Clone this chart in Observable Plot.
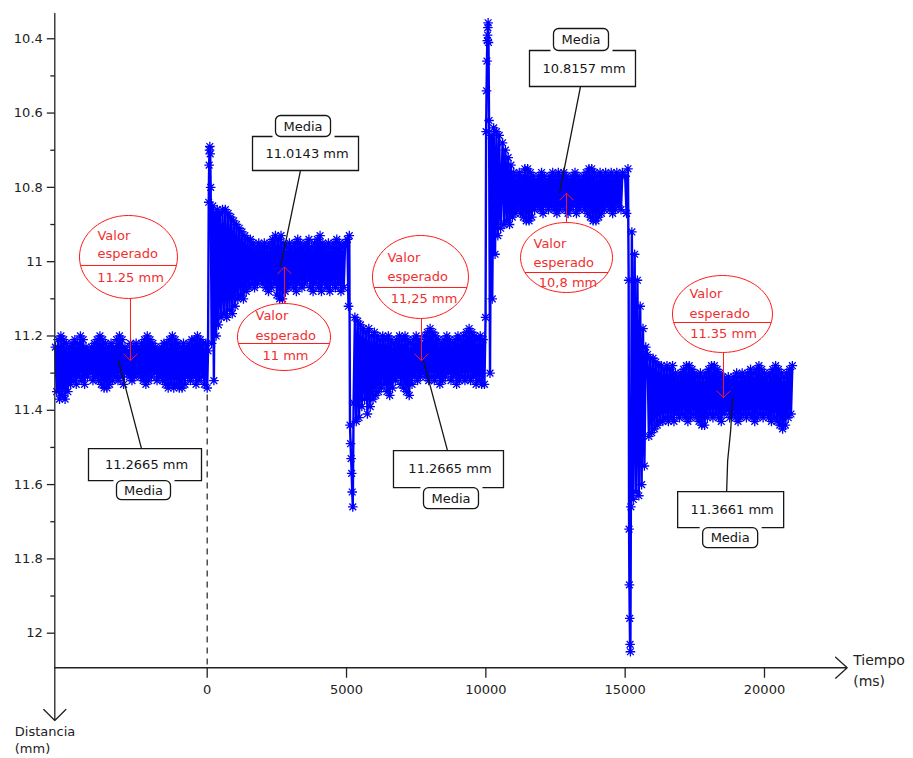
<!DOCTYPE html>
<html lang="es">
<head>
<meta charset="utf-8">
<script src="https://cdn.jsdelivr.net/npm/d3@7"></script>
<script src="https://cdn.jsdelivr.net/npm/@observablehq/plot@0.6"></script>
<style>
  html, body { margin: 0; padding: 0; background: #fff; }
  #grafico svg { display: block; }
</style>
</head>
<body>
<div id="grafico"></div>
<script>
// Tramos estables: una lectura de distancia (mm) cada 50 ms
const paso = 50;
const inicioTramos = [-5450, 450, 5700, 10600, 15800];

const tramo1 = [
  11.23, 11.35, 11.21, 11.37, 11.20, 11.36, 11.21, 11.37, 11.22, 11.35,
  11.23, 11.33, 11.22, 11.32, 11.21, 11.33, 11.22, 11.31, 11.20, 11.32,
  11.21, 11.33, 11.23, 11.31, 11.24, 11.30, 11.23, 11.32, 11.22, 11.31,
  11.21, 11.32, 11.20, 11.33, 11.21, 11.34, 11.22, 11.34, 11.23, 11.33,
  11.22, 11.32, 11.23, 11.31, 11.21, 11.32, 11.20, 11.31, 11.21, 11.33,
  11.23, 11.30, 11.24, 11.31, 11.22, 11.32, 11.23, 11.31, 11.22, 11.30,
  11.23, 11.31, 11.22, 11.32, 11.21, 11.33, 11.20, 11.32, 11.21, 11.31,
  11.22, 11.30, 11.23, 11.32, 11.24, 11.31, 11.23, 11.32, 11.22, 11.33,
  11.22, 11.34, 11.21, 11.33, 11.20, 11.34, 11.21, 11.33, 11.22, 11.34,
  11.23, 11.34, 11.22, 11.33, 11.23, 11.31, 11.22, 11.32, 11.21, 11.31,
  11.21, 11.33, 11.20, 11.32, 11.21, 11.31, 11.22, 11.33, 11.22
];
const tramo2 = [
  10.87, 11.15, 10.86, 11.14, 10.86, 11.15, 10.87, 11.13, 10.88, 11.14,
  10.89, 11.12, 10.90, 11.10, 10.91, 11.09, 10.92, 11.10, 10.93, 11.08,
  10.94, 11.07, 10.94, 11.06, 10.95, 11.07, 10.96, 11.06, 10.95, 11.05,
  10.96, 11.06, 10.95, 11.07, 10.96, 11.08, 10.95, 11.07, 10.94, 11.06,
  10.93, 11.09, 10.94, 11.10, 10.93, 11.10, 10.95, 11.08, 10.96, 11.07,
  10.95, 11.06, 10.96, 11.07, 10.95, 11.08, 10.94, 11.06, 10.95, 11.07,
  10.96, 11.06, 10.95, 11.05, 10.94, 11.07, 10.96, 11.08, 10.95, 11.06,
  10.94, 11.07, 10.93, 11.08, 10.95, 11.06, 10.96, 11.07, 10.95, 11.08,
  10.96, 11.06, 10.95, 11.07, 10.94, 11.06, 10.95, 11.08, 10.96, 11.07,
  10.95
];
const tramo3 = [
  11.19, 11.41, 11.18, 11.39, 11.20, 11.37, 11.19, 11.36, 11.20, 11.35,
  11.21, 11.34, 11.20, 11.33, 11.21, 11.35, 11.20, 11.36, 11.21, 11.34,
  11.22, 11.32, 11.21, 11.31, 11.20, 11.33, 11.21, 11.34, 11.20, 11.35,
  11.21, 11.36, 11.22, 11.33, 11.21, 11.31, 11.20, 11.32, 11.21, 11.31,
  11.22, 11.30, 11.20, 11.31, 11.19, 11.32, 11.18, 11.31, 11.19, 11.32,
  11.20, 11.31, 11.21, 11.33, 11.22, 11.32, 11.21, 11.31, 11.20, 11.30,
  11.21, 11.32, 11.22, 11.31, 11.21, 11.33, 11.20, 11.32, 11.21, 11.31,
  11.20, 11.32, 11.19, 11.31, 11.18, 11.32, 11.19, 11.31, 11.20, 11.33,
  11.21, 11.32, 11.20, 11.33, 11.21
];
const tramo4 = [
  10.68, 10.90, 10.70, 10.89, 10.72, 10.90, 10.74, 10.88, 10.76, 10.87,
  10.77, 10.86, 10.76, 10.87, 10.77, 10.88, 10.75, 10.89, 10.75, 10.89,
  10.76, 10.88, 10.77, 10.86, 10.78, 10.85, 10.77, 10.86, 10.76, 10.87,
  10.77, 10.85, 10.78, 10.86, 10.77, 10.85, 10.76, 10.86, 10.77, 10.87,
  10.76, 10.86, 10.77, 10.85, 10.76, 10.86, 10.77, 10.87, 10.78, 10.86,
  10.77, 10.85, 10.76, 10.87, 10.77, 10.86, 10.78, 10.85, 10.77, 10.86,
  10.76, 10.87, 10.75, 10.88, 10.75, 10.89, 10.76, 10.89, 10.77, 10.88,
  10.76, 10.87, 10.77, 10.86, 10.76, 10.85, 10.77, 10.86, 10.76, 10.87,
  10.77, 10.86, 10.76, 10.85, 10.77, 10.86, 10.76
];
const tramo5 = [
  11.25, 11.47, 11.26, 11.46, 11.26, 11.45, 11.27, 11.44, 11.28, 11.43,
  11.28, 11.43, 11.29, 11.42, 11.28, 11.43, 11.29, 11.42, 11.28, 11.43,
  11.30, 11.41, 11.31, 11.42, 11.30, 11.41, 11.29, 11.42, 11.28, 11.43,
  11.28, 11.42, 11.29, 11.41, 11.30, 11.42, 11.31, 11.43, 11.30, 11.44,
  11.31, 11.44, 11.30, 11.42, 11.29, 11.41, 11.28, 11.42, 11.28, 11.41,
  11.29, 11.42, 11.30, 11.43, 11.31, 11.41, 11.32, 11.40, 11.31, 11.42,
  11.32, 11.41, 11.31, 11.42, 11.30, 11.43, 11.31, 11.42, 11.30, 11.41,
  11.31, 11.42, 11.30, 11.41, 11.29, 11.42, 11.30, 11.43, 11.29, 11.42,
  11.28, 11.41, 11.29, 11.42, 11.30, 11.41, 11.31, 11.42, 11.30, 11.43,
  11.29, 11.42, 11.28, 11.43, 11.29, 11.44, 11.30, 11.45, 11.31, 11.44,
  11.30, 11.42, 11.29, 11.41, 11.28
];

// Saltos entre consignas: pares [tiempo (ms), distancia (mm)]
const salto1 = [
  [0, 11.34], [30, 11.24], [55, 10.84], [70, 10.74], [82, 10.70], [94, 10.69],
  [108, 10.71], [125, 10.80], [160, 11.22], [200, 10.85], [240, 11.32],
  [280, 10.87], [320, 11.20], [360, 10.86], [400, 11.17]
];
const salto2 = [
  [5030, 10.94], [5070, 11.12], [5100, 10.93], [5125, 11.44], [5145, 11.49],
  [5165, 11.53], [5185, 11.57], [5205, 11.62], [5225, 11.66], [5255, 11.38],
  [5300, 11.15], [5350, 11.43], [5400, 11.16], [5450, 11.42], [5500, 11.17],
  [5550, 11.39], [5600, 11.18], [5650, 11.37]
];
const salto3 = [
  [9950, 11.33], [9990, 11.15], [10010, 10.65], [10025, 10.54], [10040, 10.46],
  [10052, 10.405], [10062, 10.39], [10072, 10.37], [10082, 10.357], [10095, 10.41],
  [10115, 10.62], [10150, 11.30], [10190, 10.66], [10230, 11.10], [10280, 10.64],
  [10330, 10.98], [10380, 10.65], [10430, 10.93], [10480, 10.66], [10530, 10.91]
];
const salto4 = [
  [15000, 10.77], [15050, 10.87], [15100, 10.75], [15125, 11.05], [15140, 11.72],
  [15152, 11.87], [15164, 11.96], [15176, 12.03], [15188, 12.05], [15205, 11.66],
  [15240, 10.92], [15290, 11.64], [15340, 10.98], [15390, 11.62], [15440, 11.05],
  [15490, 11.63], [15540, 11.12], [15590, 11.60], [15640, 11.18], [15690, 11.55],
  [15740, 11.23]
];

// Media medida y valor esperado de cada escalón
const medias = [11.2665, 11.0143, 11.2665, 10.8157, 11.3661];
const esperados = ["11.25 mm", "11 mm", "11,25 mm", "10,8 mm", "11.35 mm"];
// Instantes (ms) a los que apuntan las anotaciones de media y de valor esperado
const tMedia = [-3183, 2631, 7762, 12643, 18857];
const tEsperado = [-2753, 2774, 7690, 12895, 18528];

// Ejes
const ticksX = [0, 5000, 10000, 15000, 20000];
const ticksY = [10.4, 10.6, 10.8, 11, 11.2, 11.4, 11.6, 11.8, 12];
const ticksYMenores = [10.5, 10.7, 10.9, 11.1, 11.3, 11.5, 11.7, 11.9];

// ---- Serie completa ordenada por tiempo ----
const tramos = [tramo1, tramo2, tramo3, tramo4, tramo5];
const saltos = [salto1, salto2, salto3, salto4];
const lecturas = [];
tramos.forEach((valores, k) =>
  valores.forEach((d, i) => lecturas.push({t: inicioTramos[k] + i * paso, d})));
saltos.forEach(s => s.forEach(([t, d]) => lecturas.push({t, d})));
lecturas.sort((a, b) => a.t - b.t);

// ---- Límites de los ejes ----
const tIni = -5469, tFin = 22968;        // eje de tiempo (ms)
const dArriba = 10.332, dAbajo = 12.235; // eje de distancia (mm)
const dEjeTiempo = 12.093;               // altura a la que se dibuja el eje de tiempo

const fuente = "DejaVu Sans";
const azul = "#0000ff", rojo = "#ff1a1a", textoRojo = "#f03030", negro = "#161616";

// ---- Símbolos propios ----
const simbolo = dibujar => ({draw(c) { dibujar(c); }});

const estrella = simbolo(c => {
  const a = 4.8, b = a * 0.7071;
  c.moveTo(-a, 0); c.lineTo(a, 0);
  c.moveTo(0, -a); c.lineTo(0, a);
  c.moveTo(-b, -b); c.lineTo(b, b);
  c.moveTo(-b, b); c.lineTo(b, -b);
});
const marcaX = simbolo(c => { c.moveTo(0, 0); c.lineTo(0, 10); });
const marcaY = simbolo(c => { c.moveTo(-8, 0); c.lineTo(0, 0); });
const marcaYMenor = simbolo(c => { c.moveTo(-4.5, 0); c.lineTo(0, 0); });

function elipse(c, cx, cy, rx, ry) {
  const k = 0.5523;
  c.moveTo(cx + rx, cy);
  c.bezierCurveTo(cx + rx, cy + k * ry, cx + k * rx, cy + ry, cx, cy + ry);
  c.bezierCurveTo(cx - k * rx, cy + ry, cx - rx, cy + k * ry, cx - rx, cy);
  c.bezierCurveTo(cx - rx, cy - k * ry, cx - k * rx, cy - ry, cx, cy - ry);
  c.bezierCurveTo(cx + k * rx, cy - ry, cx + rx, cy - k * ry, cx + rx, cy);
  c.closePath();
}
function rectRedondeado(c, l, t, r, b, rad) {
  c.moveTo(l + rad, t);
  c.arcTo(r, t, r, b, rad);
  c.arcTo(r, b, l, b, rad);
  c.arcTo(l, b, l, t, rad);
  c.arcTo(l, t, r, t, rad);
  c.closePath();
}

// Globo rojo del valor esperado, relativo a la punta de su flecha (px)
const globos = [
  {cx: -2,   cy: -103.7, rx: 49,   ry: 41.5, div: -95.2, lineas: [-125.2, -107.2, -83.2], izq: -33, val: 0},
  {cx: -0.5, cy: 70,     rx: 46.5, ry: 33.5, div: 76.5,  lineas: [48.5, 68.5, 88.5],      izq: -29, val: 1},
  {cx: -1,   cy: -83.7,  rx: 48,   ry: 41.5, div: -73.2, lineas: [-103.2, -84.2, -62.2],  izq: -34, val: 2.5},
  {cx: 0,    cy: 64.3,   rx: 46,   ry: 35,   div: 79.3,  lineas: [50.3, 69.3, 89.3],      izq: -33, val: 1.5},
  {cx: -1,   cy: -83.7,  rx: 50,   ry: 38.5, div: -75.2, lineas: [-104.2, -84.2, -64.2],  izq: -34, val: 0}
];
function globoRojo(g) {
  return simbolo(c => {
    elipse(c, g.cx, g.cy, g.rx, g.ry);
    const h = g.rx * Math.sqrt(Math.max(0, 1 - ((g.div - g.cy) / g.ry) ** 2));
    c.moveTo(g.cx - h, g.div); c.lineTo(g.cx + h, g.div);
    const s = g.cy < 0 ? 1 : -1;           // 1: la flecha baja hacia la serie
    c.moveTo(0, g.cy + s * g.ry); c.lineTo(0, 0);
    c.moveTo(-7, -7 * s); c.lineTo(0, 0); c.lineTo(7, -7 * s);
  });
}

// Recuadro negro de la media, relativo al extremo de su línea guía (px)
const cajas = [
  {guia: [[0, 0], [23, 88]],  caja: [-30, 88, 83, 120],        pestana: [-2, 120, 52, 139],       arriba: false},
  {guia: [[0, 0], [20, -96.5]], caja: [-28, -130.5, 78, -96.5], pestana: [-5, -151.5, 50, -130.5], arriba: true},
  {guia: [[0, 0], [24, 90]],  caja: [-30, 90, 80, 127],        pestana: [0, 127, 55, 148],        arriba: false},
  {guia: [[0, 0], [21, -106.7]], caja: [-30, -142.7, 76, -106.7], pestana: [-6, -164.7, 49, -142.7], arriba: true},
  {guia: [[0, 0], [-2, 33], [-5, 63], [-6, 94]], caja: [-55, 94, 51, 130], pestana: [-30, 130, 25, 150], arriba: false}
];
function cajaNegra(k) {
  return simbolo(c => {
    k.guia.forEach(([x, y], i) => i ? c.lineTo(x, y) : c.moveTo(x, y));
    const [l, t, r, b] = k.caja, [pl, pt, pr, pb] = k.pestana;
    const yp = k.arriba ? t : b, yo = k.arriba ? b : t;
    c.moveTo(pl - 3, yp); c.lineTo(l, yp); c.lineTo(l, yo);
    c.lineTo(r, yo); c.lineTo(r, yp); c.lineTo(pr + 4, yp);
    rectRedondeado(c, pl, pt, pr, pb, 5);
  });
}

// ---- Anotaciones ----
const anotaciones = medias.flatMap((m, i) => {
  const g = globos[i], k = cajas[i];
  const [l, t, r, b] = k.caja, [pl, pt, pr, pb] = k.pestana;
  const rojoTexto = {fill: textoRojo, fontSize: 13, fontFamily: fuente, lineAnchor: "middle"};
  const negroTexto = {fill: negro, fontSize: 13, fontFamily: fuente, lineAnchor: "middle"};
  const pe = [{t: tEsperado[i], d: m}], pm = [{t: tMedia[i], d: m}];
  return [
    Plot.dot(pe, {x: "t", y: "d", symbol: globoRojo(g), stroke: rojo, strokeWidth: 1, fill: "none"}),
    Plot.text(pe, {x: "t", y: "d", text: () => "Valor", dx: g.izq, dy: g.lineas[0], textAnchor: "start", ...rojoTexto}),
    Plot.text(pe, {x: "t", y: "d", text: () => "esperado", dx: g.izq, dy: g.lineas[1], textAnchor: "start", ...rojoTexto}),
    Plot.text(pe, {x: "t", y: "d", text: () => esperados[i], dx: g.val, dy: g.lineas[2], textAnchor: "middle", ...rojoTexto}),
    Plot.dot(pm, {x: "t", y: "d", symbol: cajaNegra(k), stroke: negro, strokeWidth: 1.3, fill: "none"}),
    Plot.text(pm, {x: "t", y: "d", text: d => `${d.d.toFixed(4)} mm`, dx: (l + r) / 2 + 1.5, dy: (t + b) / 2, textAnchor: "middle", ...negroTexto}),
    Plot.text(pm, {x: "t", y: "d", text: () => "Media", dx: (pl + pr) / 2, dy: (pt + pb) / 2 + 0.5, textAnchor: "middle", ...negroTexto})
  ];
});

const ejes = [{x1: tIni, y1: dEjeTiempo, x2: tFin, y2: dEjeTiempo}];
const ejeVertical = [{x1: tIni, y1: dArriba, x2: tIni, y2: dAbajo}];

const grafico = Plot.plot({
  width: 913,
  height: 758,
  style: {fontFamily: fuente, background: "#fff", overflow: "visible"},
  x: {domain: [tIni, tFin], range: [54.3, 846.7], axis: null},
  y: {domain: [dArriba, dAbajo], range: [13, 720], axis: null},
  marks: [
    // marca del instante cero
    Plot.ruleX([0], {x: d => d, y1: 11.27, y2: dEjeTiempo, stroke: "#222", strokeWidth: 1.2, strokeDasharray: "6,5"}),
    // medidas
    Plot.line(lecturas, {x: "t", y: "d", stroke: azul, strokeWidth: 2.4, strokeLinejoin: "round"}),
    Plot.dot(lecturas, {x: "t", y: "d", symbol: estrella, stroke: azul, strokeWidth: 1.3, fill: "none"}),
    // ejes con flecha
    Plot.arrow(ejes, {x1: "x1", y1: "y1", x2: "x2", y2: "y2", stroke: "#222", strokeWidth: 1.3, headAngle: 84, headLength: 18}),
    Plot.arrow(ejeVertical, {x1: "x1", y1: "y1", x2: "x2", y2: "y2", stroke: "#222", strokeWidth: 1.3, headAngle: 90, headLength: 18}),
    Plot.dot(ticksX, {x: d => d, y: () => dEjeTiempo, symbol: marcaX, stroke: "#222", strokeWidth: 1.3, fill: "none"}),
    Plot.dot(ticksY, {x: () => tIni, y: d => d, symbol: marcaY, stroke: "#222", strokeWidth: 1.3, fill: "none"}),
    Plot.dot(ticksYMenores, {x: () => tIni, y: d => d, symbol: marcaYMenor, stroke: "#222", strokeWidth: 1.3, fill: "none"}),
    Plot.text(ticksX, {x: d => d, y: () => dEjeTiempo, text: d => String(d), dy: 22, fontSize: 13, fontFamily: fuente, fill: "#222", textAnchor: "middle", lineAnchor: "middle"}),
    Plot.text(ticksY, {x: () => tIni, y: d => d, text: d => String(d), dx: -12, fontSize: 13, fontFamily: fuente, fill: "#222", textAnchor: "end", lineAnchor: "middle"}),
    Plot.text(ejes, {x: "x2", y: "y2", text: () => "Tiempo\n(ms)", dx: 6, dy: 1.5, fontSize: 14, lineHeight: 1.5, fontFamily: fuente, fill: "#222", textAnchor: "start", lineAnchor: "middle"}),
    Plot.text(ejeVertical, {x: "x2", y: "y2", text: () => "Distancia\n(mm)", dx: -40, dy: 18.5, fontSize: 13, lineHeight: 1.35, fontFamily: fuente, fill: "#222", textAnchor: "start", lineAnchor: "middle"}),
    ...anotaciones
  ]
});

document.getElementById("grafico").appendChild(grafico);
</script>
</body>
</html>
